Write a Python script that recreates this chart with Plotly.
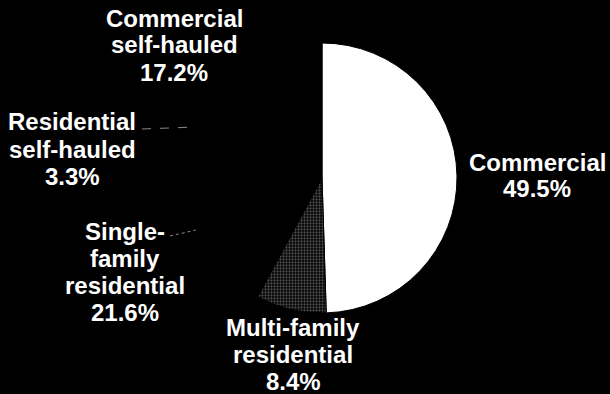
import plotly.graph_objects as go

# Data
categories = ["Commercial", "Multi-family residential", "Single-family residential",
              "Residential self-hauled", "Commercial self-hauled"]
shares = [49.5, 8.4, 21.6, 3.3, 17.2]
label_lines = [
    ["Commercial", "49.5%"],
    ["Multi-family", "residential", "8.4%"],
    ["Single-", "family", "residential", "21.6%"],
    ["Residential", "self-hauled", "3.3%"],
    ["Commercial", "self-hauled", "17.2%"],
]

W, H = 610, 394
cx, cy, R = 322, 178, 135

colors = ["#ffffff", "#000000", "#000000", "#000000", "#000000"]
pattern_shapes = ["", ".", "", "", ""]

fig = go.Figure()
fig.add_trace(go.Pie(
    labels=categories,
    values=shares,
    sort=False,
    direction="clockwise",
    rotation=0,
    textinfo="none",
    hoverinfo="label+percent",
    showlegend=False,
    marker=dict(
        colors=colors,
        line=dict(color="#000000", width=1),
        pattern=dict(shape=pattern_shapes, fgcolor="#9a9a9a", bgcolor="#000000",
                     size=3, solidity=0.45, fillmode="overlay"),
    ),
    domain=dict(x=[(cx - R) / W, (cx + R) / W],
                y=[(H - cy - R) / H, (H - cy + R) / H]),
))

# label anchors (center x, first-line center y) in pixels, line spacing
label_pos = [(537, 162), (293, 327), (125, 231), (72, 122), (174, 18)]
line_gap = 27

annotations = []
for lines, (lx, ly) in zip(label_lines, label_pos):
    for i, t in enumerate(lines):
        annotations.append(dict(
            x=lx / W, y=1 - (ly + i * line_gap) / H, xref="paper", yref="paper",
            text=f"<b>{t}</b>", showarrow=False, xanchor="center", yanchor="middle",
            font=dict(family="Liberation Sans, Arial, sans-serif", size=24, color="#ffffff"),
        ))

shapes = [
    dict(type="line", xref="paper", yref="paper",
         x0=142 / W, y0=1 - 129 / H, x1=196 / W, y1=1 - 127 / H,
         line=dict(color="#888888", width=1, dash="dash")),
    dict(type="line", xref="paper", yref="paper",
         x0=170 / W, y0=1 - 236 / H, x1=196 / W, y1=1 - 230 / H,
         line=dict(color="#888888", width=1, dash="dot")),
]

fig.update_layout(
    width=W, height=H,
    margin=dict(l=0, r=0, t=0, b=0),
    paper_bgcolor="#000000",
    plot_bgcolor="#000000",
    annotations=annotations,
    shapes=shapes,
)

fig.write_html("out.html")
